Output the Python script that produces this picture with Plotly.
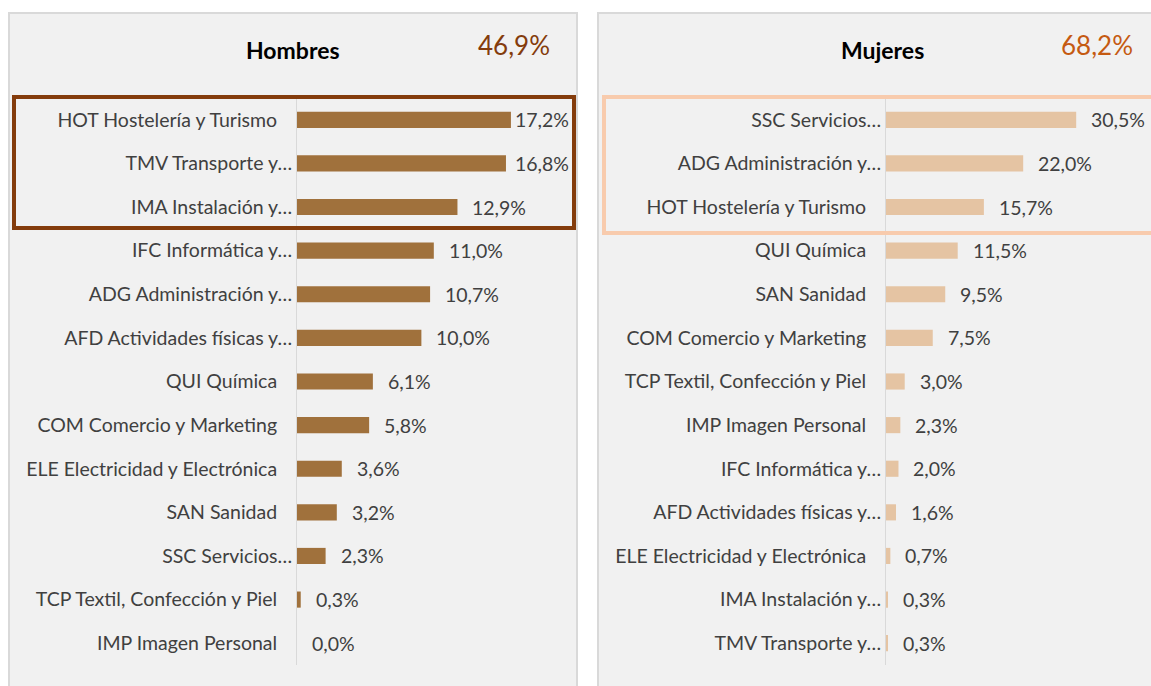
import plotly.graph_objects as go

W, H = 1151, 686

hombres_cats = ["HOT Hostelería y Turismo", "TMV Transporte y…", "IMA Instalación y…",
                "IFC Informática y…", "ADG Administración y…", "AFD Actividades físicas y…",
                "QUI Química", "COM Comercio y Marketing", "ELE Electricidad y Electrónica",
                "SAN Sanidad", "SSC Servicios…", "TCP Textil, Confección y Piel",
                "IMP Imagen Personal"]
hombres_vals = [17.2, 16.8, 12.9, 11.0, 10.7, 10.0, 6.1, 5.8, 3.6, 3.2, 2.3, 0.3, 0.0]

mujeres_cats = ["SSC Servicios…", "ADG Administración y…", "HOT Hostelería y Turismo",
                "QUI Química", "SAN Sanidad", "COM Comercio y Marketing",
                "TCP Textil, Confección y Piel", "IMP Imagen Personal", "IFC Informática y…",
                "AFD Actividades físicas y…", "ELE Electricidad y Electrónica",
                "IMA Instalación y…", "TMV Transporte y…"]
mujeres_vals = [30.5, 22.0, 15.7, 11.5, 9.5, 7.5, 3.0, 2.3, 2.0, 1.6, 0.7, 0.3, 0.3]

titles = ["Hombres", "Mujeres"]
totals = ["46,9%", "68,2%"]

FONT = "Lato"
FS = 19.5
LABEL_COLOR = "#404040"
BAR_H = "#a0713c"
BAR_M = "#e5c4a3"

def fmt(v):
    return f"{v:.1f}".replace(".", ",") + "%"

def ticktext(c):
    # full labels sit further from the axis than truncated ones
    return c if c.endswith("…") else c + "\u00a0\u00a0\u00a0"

fig = go.Figure()
fig.add_trace(go.Bar(x=hombres_vals, y=hombres_cats, orientation="h",
                     marker=dict(color=BAR_H, line=dict(width=0)), width=0.37,
                     xaxis="x", yaxis="y", hoverinfo="x+y"))
fig.add_trace(go.Bar(x=mujeres_vals, y=mujeres_cats, orientation="h",
                     marker=dict(color=BAR_M, line=dict(width=0)), width=0.37,
                     xaxis="x2", yaxis="y2", hoverinfo="x+y"))

# axis geometry (pixels)
left_axis_px, left_right_px = 297, 575
right_axis_px, right_right_px = 886, 1151
xmax1, xmax2 = 22.35, 42.5
ydom = [(H - 665) / H, (H - 98) / H]

ax_common = dict(showgrid=False, zeroline=False, showticklabels=False, showline=False,
                 fixedrange=True)
fig.update_layout(
    xaxis=dict(domain=[left_axis_px / W, left_right_px / W], range=[0, xmax1], anchor="y", **ax_common),
    xaxis2=dict(domain=[right_axis_px / W, right_right_px / W], range=[0, xmax2], anchor="y2", **ax_common),
)
for name, cats in (("yaxis", hombres_cats), ("yaxis2", mujeres_cats)):
    fig.layout[name] = dict(
        domain=ydom, autorange="reversed", type="category",
        tickmode="array", tickvals=cats, ticktext=[ticktext(c) for c in cats],
        showline=True, linecolor="#d9d9d9", linewidth=1, ticks="", ticklabelstandoff=0,
        tickfont=dict(family=FONT, size=FS, color=LABEL_COLOR), showgrid=False,
        anchor="x" if name == "yaxis" else "x2", fixedrange=True)

# value labels
annotations = []
for vals, cats, xr, xmax, scale in ((hombres_vals, hombres_cats, "x", xmax1, (left_right_px - left_axis_px) / xmax1),
                                     (mujeres_vals, mujeres_cats, "x2", xmax2, (right_right_px - right_axis_px) / xmax2)):
    yr = "y" if xr == "x" else "y2"
    for v, c in zip(vals, cats):
        fits = v + (14 + 56) / scale <= xmax
        annotations.append(dict(
            x=v if fits else xmax, y=c, xref=xr, yref=yr, text=fmt(v), showarrow=False,
            xanchor="left" if fits else "right", yanchor="middle",
            xshift=13 if fits else -4,
            font=dict(family=FONT, size=FS, color=LABEL_COLOR)))

# titles and totals
annotations += [
    dict(x=293 / W, y=1 - 50 / H, xref="paper", yref="paper", text=f"<b>{titles[0]}</b>",
         xanchor="center", yanchor="middle",
         showarrow=False, font=dict(family=FONT, size=23, color="#000000")),
    dict(x=514 / W, y=1 - 45 / H, xref="paper", yref="paper", text=totals[0],
         xanchor="center", yanchor="middle",
         showarrow=False, font=dict(family=FONT, size=26, color="#843c0c")),
    dict(x=882 / W, y=1 - 50 / H, xref="paper", yref="paper", text=f"<b>{titles[1]}</b>",
         xanchor="center", yanchor="middle",
         showarrow=False, font=dict(family=FONT, size=23, color="#000000")),
    dict(x=1097 / W, y=1 - 45 / H, xref="paper", yref="paper", text=totals[1],
         xanchor="center", yanchor="middle",
         showarrow=False, font=dict(family=FONT, size=26, color="#c55a11")),
]

def px_rect(x0, y0, x1, y1, **kw):
    return dict(type="rect", xref="paper", yref="paper",
                x0=x0 / W, x1=x1 / W, y0=1 - y1 / H, y1=1 - y0 / H, **kw)

shapes = [
    px_rect(9, 13, 577, 700, fillcolor="#f1f1f1", line=dict(color="#d9d9d9", width=2), layer="below"),
    px_rect(598, 13, 1165, 700, fillcolor="#f1f1f1", line=dict(color="#d9d9d9", width=2), layer="below"),
    px_rect(14, 97, 574, 228, fillcolor="rgba(0,0,0,0)", line=dict(color="#843c0c", width=4), layer="above"),
    px_rect(604, 97, 1160, 233, fillcolor="rgba(0,0,0,0)", line=dict(color="#f8cbad", width=4), layer="above"),
]

fig.update_layout(
    width=W, height=H, autosize=False,
    margin=dict(l=0, r=0, t=0, b=0),
    paper_bgcolor="#ffffff", plot_bgcolor="rgba(0,0,0,0)",
    showlegend=False,
    annotations=annotations, shapes=shapes,
    font=dict(family=FONT, color=LABEL_COLOR),
)

fig.write_html("out.html", config={"displayModeBar": False},
               post_script="document.body.style.margin='0px';document.body.style.overflow='hidden';")
